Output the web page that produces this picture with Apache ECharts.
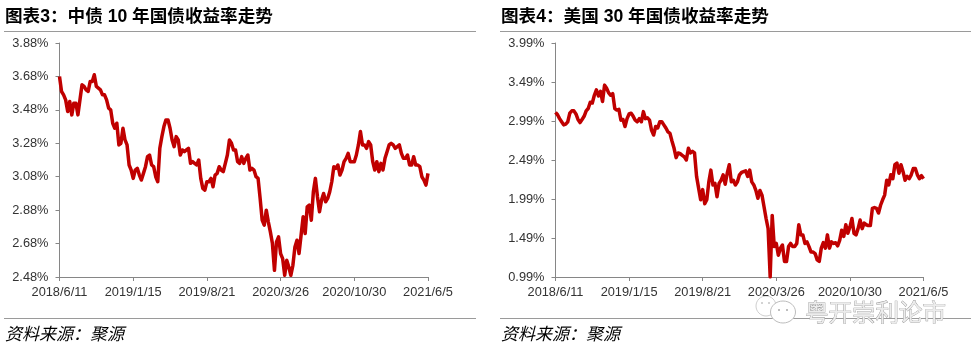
<!DOCTYPE html>
<html>
<head>
<meta charset="utf-8">
<style>
  html, body { margin: 0; padding: 0; background: #fff; }
  #chart { width: 978px; height: 353px; }
</style>
<script src="https://cdn.jsdelivr.net/npm/echarts@6/dist/echarts.min.js"></script>
</head>
<body>
<div id="chart"></div>
<script>
// 横轴标注日期，每 36 个点一个刻度
const dateLabels = ['2018/6/11', '2019/1/15', '2019/8/21', '2020/3/26', '2020/10/30', '2021/6/5']
const pointsPerTick = 36

const cnTicks = [2.48, 2.68, 2.88, 3.08, 3.28, 3.48, 3.68, 3.88]
const usTicks = [0.99, 1.49, 1.99, 2.49, 2.99, 3.49, 3.99]

// 中债 10 年国债收益率
const cnYield = [
  3.68, 3.59, 3.57, 3.54, 3.47, 3.53, 3.45, 3.52, 3.52, 3.45, 3.54, 3.63,
  3.62, 3.60, 3.59, 3.65, 3.65, 3.69, 3.62, 3.61, 3.60, 3.57, 3.57, 3.54,
  3.49, 3.48, 3.40, 3.37, 3.40, 3.27, 3.28, 3.37, 3.30, 3.27, 3.15, 3.12,
  3.07, 3.12, 3.13, 3.09, 3.06, 3.10, 3.14, 3.20, 3.21, 3.15, 3.14, 3.08,
  3.05, 3.25, 3.32, 3.38, 3.42, 3.42, 3.37, 3.30, 3.26, 3.32, 3.30, 3.21,
  3.24, 3.23, 3.24, 3.25, 3.16, 3.17, 3.16, 3.15, 3.18, 3.07, 3.01, 3.00,
  3.05, 3.05, 3.07, 3.02, 3.09, 3.10, 3.14, 3.12, 3.11, 3.16, 3.21, 3.30,
  3.28, 3.24, 3.24, 3.17, 3.16, 3.20, 3.16, 3.19, 3.21, 3.12, 3.13, 3.12,
  3.08, 3.07, 2.95, 2.82, 2.79, 2.88, 2.81, 2.75, 2.68, 2.52, 2.69, 2.72,
  2.62, 2.59, 2.49, 2.58, 2.54, 2.49, 2.55, 2.66, 2.70, 2.62, 2.73, 2.84,
  2.74, 2.90, 2.91, 2.82, 2.99, 3.07, 2.96, 2.87, 2.94, 2.98, 2.93, 2.95,
  2.99, 3.05, 3.14, 3.13, 3.15, 3.09, 3.12, 3.17, 3.19, 3.22, 3.17, 3.17,
  3.17, 3.21, 3.27, 3.35, 3.27, 3.27, 3.25, 3.29, 3.27, 3.17, 3.12, 3.17,
  3.11, 3.16, 3.12, 3.19, 3.23, 3.27, 3.28, 3.27, 3.25, 3.26, 3.27, 3.22,
  3.19, 3.19, 3.21, 3.15, 3.15, 3.20, 3.15, 3.15, 3.14, 3.08, 3.06, 3.03,
  3.10
]

// 美国 30 年国债收益率
const usYield = [
  3.10, 3.07, 3.02, 2.98, 2.94, 2.95, 2.98, 3.09, 3.12, 3.12, 3.08, 3.01,
  2.97, 3.01, 3.05, 3.12, 3.15, 3.23, 3.22, 3.32, 3.39, 3.31, 3.37, 3.24,
  3.45, 3.41, 3.35, 3.32, 3.34, 3.15, 3.13, 3.14, 3.00, 3.01, 2.92, 3.02,
  3.08, 3.09, 3.05, 3.00, 2.98, 3.02, 2.98, 3.11, 3.02, 3.03, 3.00, 2.87,
  2.81, 2.92, 2.90, 2.98, 2.98, 2.94, 2.90, 2.85, 2.83, 2.73, 2.64, 2.52,
  2.58, 2.57, 2.55, 2.53, 2.49, 2.64, 2.58, 2.60, 2.58, 2.28, 2.13, 1.98,
  2.11, 1.93, 1.98, 2.21, 2.36, 2.17, 2.19, 2.02, 2.19, 2.23, 2.30, 2.18,
  2.32, 2.43, 2.21, 2.23, 2.17, 2.21, 2.30, 2.33, 2.34, 2.35, 2.28, 2.36,
  2.21, 2.17, 2.10, 2.00, 2.10, 2.04, 1.89, 1.74, 1.61, 0.99, 1.78, 1.38,
  1.42, 1.27, 1.36, 1.40, 1.19, 1.19, 1.38, 1.42, 1.38, 1.38, 1.42, 1.66,
  1.53, 1.53, 1.42, 1.44, 1.38, 1.31, 1.31, 1.29, 1.21, 1.19, 1.36, 1.43,
  1.36, 1.53, 1.36, 1.44, 1.42, 1.43, 1.39, 1.46, 1.59, 1.51, 1.66, 1.55,
  1.63, 1.74, 1.55, 1.53, 1.61, 1.72, 1.61, 1.68, 1.66, 1.65, 1.65, 1.87,
  1.88, 1.87, 1.81, 1.91, 1.98, 2.04, 2.23, 2.17, 2.30, 2.25, 2.43, 2.45,
  2.32, 2.43, 2.34, 2.23, 2.28, 2.25, 2.30, 2.38, 2.38, 2.30, 2.25, 2.29,
  2.25
]

const lineColor = '#c00000'
const axisColor = '#868686'
const labelColor = '#333333'
const latin = '"Liberation Sans", Arial, "Noto Sans CJK SC", sans-serif'

// 类目：只有刻度位置带日期
const categories = cnYield.map((v, i) => (i % pointsPerTick === 0 ? dateLabels[i / pointsPerTick] : ''))

function xAxisFor(gridIndex) {
  return {
    gridIndex: gridIndex,
    type: 'category',
    boundaryGap: false,
    data: categories,
    axisLine: { lineStyle: { color: axisColor, width: 1 } },
    axisTick: { interval: pointsPerTick - 1, length: 4, lineStyle: { color: axisColor } },
    axisLabel: {
      interval: pointsPerTick - 1,
      color: labelColor,
      fontFamily: latin,
      fontSize: 12.8,
      margin: 9,
      hideOverlap: false
    },
    splitLine: { show: false }
  }
}

function yAxisFor(gridIndex, ticks) {
  return {
    gridIndex: gridIndex,
    type: 'value',
    min: ticks[0],
    max: ticks[ticks.length - 1],
    axisLine: { show: true, lineStyle: { color: axisColor, width: 1 } },
    axisTick: { show: true, length: 4, customValues: ticks, lineStyle: { color: axisColor } },
    axisLabel: {
      customValues: ticks,
      color: labelColor,
      fontFamily: latin,
      fontSize: 12.8,
      margin: 11,
      formatter: (v) => v.toFixed(2) + '%'
    },
    splitLine: { show: false }
  }
}

function seriesFor(index, name, values) {
  return {
    name: name,
    type: 'line',
    xAxisIndex: index,
    yAxisIndex: index,
    data: values,
    symbol: 'none',
    smooth: false,
    animation: false,
    lineStyle: { color: lineColor, width: 3.5, join: 'round' }
  }
}

function rule(x1, x2, y) {
  return { type: 'line', shape: { x1: x1, y1: y, x2: x2, y2: y }, style: { stroke: '#9a9a9a', lineWidth: 1 } }
}

function label(x, y, text, style) {
  return { type: 'text', x: x, y: y, style: Object.assign({ text: text, fill: '#000', textVerticalAlign: 'middle' }, style) }
}

function eye(cx, cy, color) {
  return { type: 'circle', shape: { cx: cx, cy: cy, r: 1 }, style: { fill: color } }
}

const titleFont = { font: 'bold 17.6px "Liberation Sans", "Noto Sans CJK SC", sans-serif' }
const sourceFont = { font: 'italic 17px "Liberation Sans", "Noto Sans CJK SC", sans-serif' }

const option = {
  backgroundColor: '#fff',
  animation: false,
  grid: [
    { left: 59.5, right: 550, top: 43, bottom: 76 },
    { left: 555.5, right: 54.5, top: 43, bottom: 76 }
  ],
  xAxis: [xAxisFor(0), xAxisFor(1)],
  yAxis: [yAxisFor(0, cnTicks), yAxisFor(1, usTicks)],
  series: [
    seriesFor(0, '中债10年国债收益率', cnYield),
    seriesFor(1, '美国30年国债收益率', usYield)
  ],
  graphic: [
    label(5, 17, '图表3：中债 10 年国债收益率走势', titleFont),
    label(501, 17, '图表4：美国 30 年国债收益率走势', titleFont),
    rule(4, 476, 31.5),
    rule(500, 971, 31.5),
    rule(4, 476, 318.5),
    rule(500, 971, 318.5),
    label(5, 335, '资料来源：聚源', sourceFont),
    label(501, 335, '资料来源：聚源', sourceFont),
    // 水印
    { type: 'ellipse', shape: { cx: 766, cy: 306, rx: 10, ry: 10 }, style: { fill: 'rgba(255,255,255,0.6)', stroke: '#cfcfcf', lineWidth: 1 } },
    eye(762, 303, '#c4c4c4'),
    eye(769, 303, '#c4c4c4'),
    { type: 'ellipse', shape: { cx: 783, cy: 312, rx: 12.5, ry: 11 }, style: { fill: '#fff', stroke: '#bdbdbd', lineWidth: 1 } },
    eye(779, 310, '#a8a8a8'),
    eye(787, 310, '#a8a8a8'),
    label(805, 312, '粤开崇利论市', { font: '23.5px "Noto Sans CJK SC", sans-serif', fill: '#ececec', stroke: '#8f8f8f', lineWidth: 0.7 })
  ]
}

const myChart = echarts.init(document.getElementById('chart'), null, { renderer: 'canvas' })
myChart.setOption(option)
</script>
</body>
</html>
